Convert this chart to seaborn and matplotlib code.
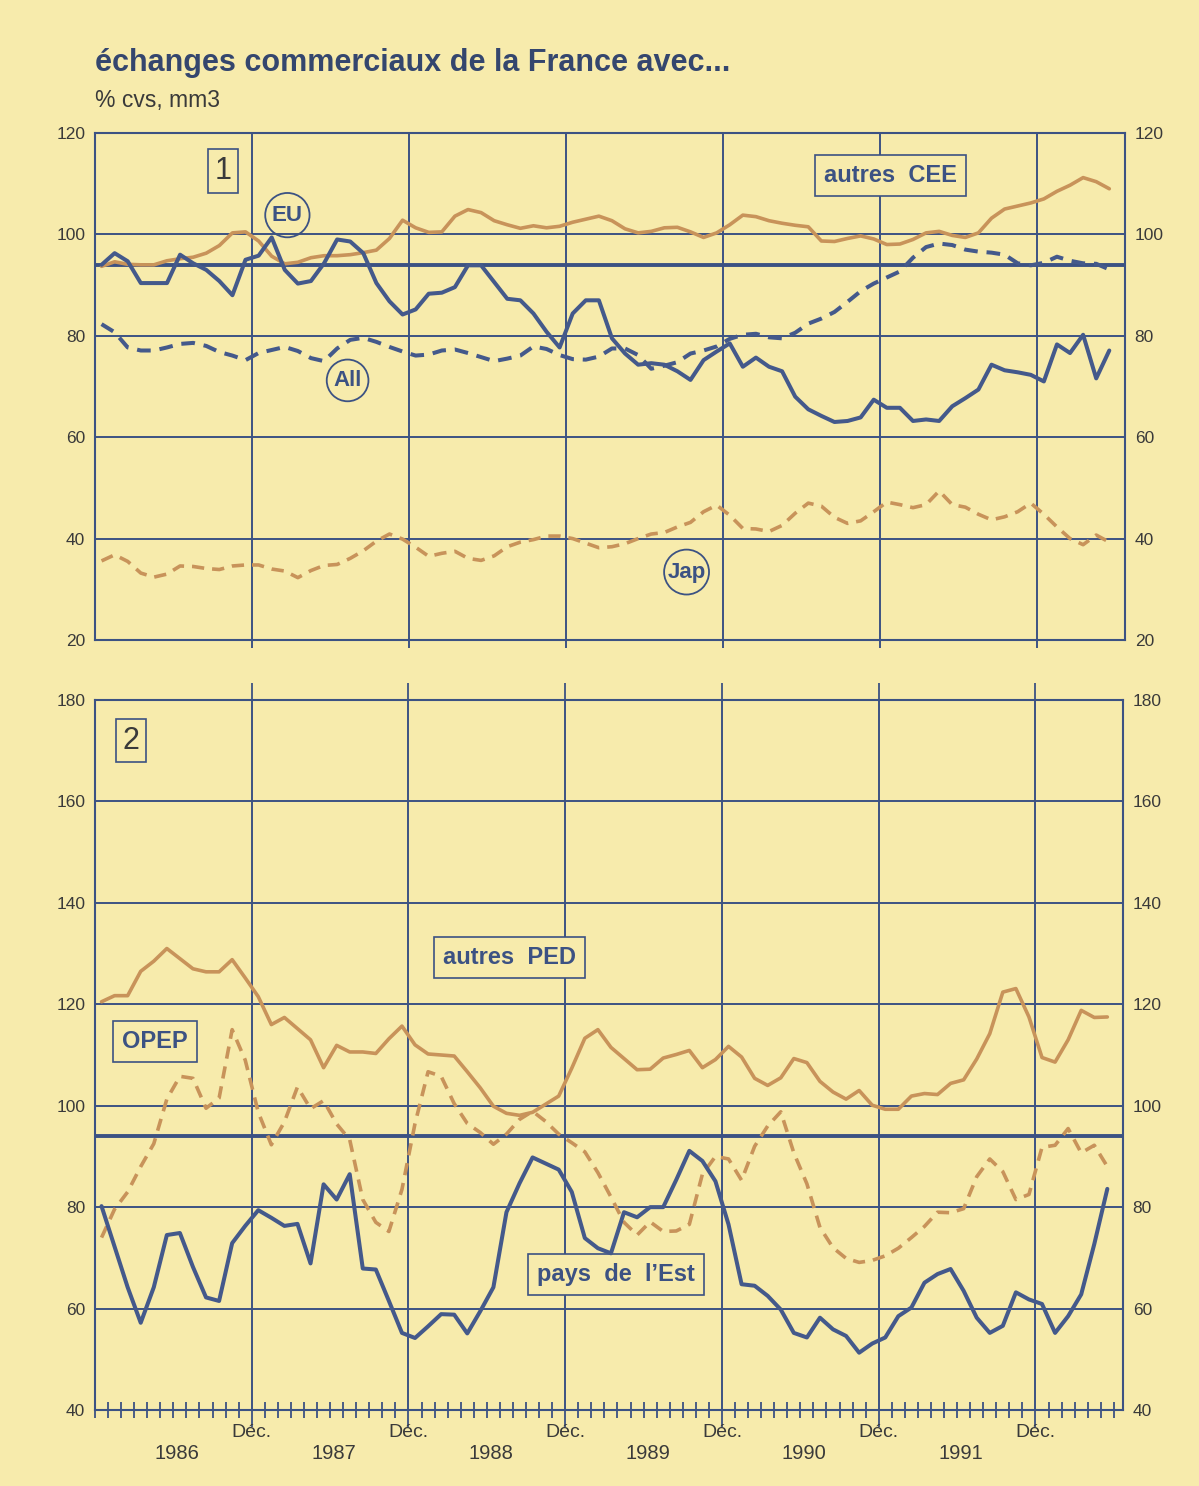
import numpy as np
import pandas as pd
import matplotlib
matplotlib.use("Agg")
import matplotlib.pyplot as plt
import seaborn as sns

# ---------------- data (monthly, Jan 1986 - Jun 1992) ----------------
dates = pd.date_range("1986-01-01", periods=78, freq="MS")

eu = [94.0, 96.3, 94.7, 90.4, 90.4, 90.4, 96.0, 94.3, 93.0, 90.8,
      88.0, 95.0, 95.8, 99.4, 93.0, 90.3, 90.8, 94.3, 99.0, 98.6,
      96.3, 90.4, 86.8, 84.2, 85.2, 88.3, 88.5, 89.6, 93.9, 93.9,
      90.6, 87.3, 87.0, 84.4, 80.8, 77.7, 84.4, 87.0, 87.0, 79.5,
      76.5, 74.3, 74.6, 74.3, 73.0, 71.3, 75.2, 76.9, 78.5, 73.9,
      75.7, 73.9, 73.0, 68.0, 65.5, 64.2, 63.0, 63.2, 63.9, 67.4,
      65.8, 65.8, 63.2, 63.5, 63.2, 66.1, 67.7, 69.4, 74.3, 73.2,
      72.8, 72.3, 71.0, 78.3, 76.6, 80.2, 71.6, 77.1]

autres_cee = [93.7, 94.6, 94.1, 94.0, 94.0, 94.8, 95.2, 95.5, 96.3, 97.8,
              100.3, 100.5, 98.7, 95.7, 94.2, 94.5, 95.4, 95.8, 95.8, 96.0,
              96.4, 96.9, 99.2, 102.8, 101.3, 100.4, 100.5, 103.6, 104.9, 104.3,
              102.7, 101.9, 101.2, 101.7, 101.3, 101.6, 102.4, 103.0, 103.6, 102.7,
              101.1, 100.3, 100.6, 101.3, 101.4, 100.5, 99.4, 100.3, 101.9, 103.8,
              103.5, 102.7, 102.2, 101.8, 101.5, 98.7, 98.6, 99.2, 99.7, 99.1,
              98.0, 98.1, 99.0, 100.3, 100.6, 99.8, 99.4, 100.3, 103.2, 105.0,
              105.6, 106.2, 107.0, 108.5, 109.7, 111.2, 110.4, 109.0]

allemagne = [82.3, 80.7, 77.7, 77.1, 77.1, 77.7, 78.4, 78.6, 78.0, 76.8,
             76.1, 75.2, 76.6, 77.2, 77.8, 77.0, 75.6, 75.0, 77.5, 79.2,
             79.6, 78.8, 77.8, 76.9, 76.1, 76.3, 77.1, 77.3, 76.6, 75.8,
             75.0, 75.5, 76.1, 77.9, 77.4, 76.2, 75.4, 75.3, 75.9, 77.5,
             77.5, 76.2, 73.5, 74.1, 74.8, 76.5, 77.1, 77.9, 79.4, 80.2,
             80.4, 79.7, 79.5, 80.6, 82.4, 83.4, 84.7, 86.7, 88.8, 90.3,
             91.5, 92.7, 95.4, 97.5, 98.2, 97.9, 97.0, 96.6, 96.4, 96.0,
             94.3, 93.9, 94.4, 95.6, 94.8, 94.3, 94.2, 93.1]

japon = [35.6, 36.8, 35.5, 33.2, 32.4, 33.0, 34.6, 34.5, 34.1, 33.9,
         34.6, 34.8, 34.8, 34.0, 33.6, 32.3, 33.7, 34.7, 34.9, 36.1,
         37.6, 39.5, 40.9, 39.9, 38.3, 36.5, 37.1, 37.5, 36.1, 35.7,
         36.6, 38.4, 39.3, 39.8, 40.5, 40.5, 40.0, 39.1, 38.2, 38.4,
         39.0, 40.0, 40.9, 41.2, 42.3, 43.2, 45.3, 46.6, 44.6, 42.0,
         41.9, 41.4, 42.6, 45.0, 47.0, 46.4, 44.2, 43.0, 43.5, 45.3,
         47.2, 46.7, 46.1, 46.7, 49.4, 46.7, 46.2, 44.8, 43.7, 44.3,
         45.3, 47.0, 44.8, 42.3, 40.0, 38.8, 40.7, 39.3]

autres_ped = [120.5, 121.7, 121.7, 126.5, 128.5, 131.0, 129.0, 127.0, 126.4, 126.4,
              128.8, 125.2, 121.5, 116.0, 117.4, 115.2, 113.0, 107.5, 111.9, 110.6,
              110.6, 110.3, 113.2, 115.7, 112.0, 110.2, 110.0, 109.8, 106.7, 103.5,
              99.9, 98.5, 98.1, 98.7, 100.3, 101.9, 107.4, 113.3, 115.0, 111.5,
              109.3, 107.1, 107.2, 109.4, 110.1, 110.9, 107.5, 109.1, 111.7, 109.6,
              105.4, 104.0, 105.5, 109.3, 108.5, 104.8, 102.7, 101.3, 103.0, 100.1,
              99.3, 99.3, 101.9, 102.4, 102.2, 104.4, 105.1, 109.2, 114.2, 122.4,
              123.1, 117.5, 109.5, 108.6, 113.0, 118.8, 117.4, 117.5]

opep = [74.0, 79.6, 83.0, 88.0, 92.5, 101.3, 105.8, 105.4, 99.5, 101.5,
        115.0, 109.0, 98.7, 92.3, 96.8, 103.7, 99.4, 101.0, 96.4, 93.3,
        81.5, 77.0, 75.2, 83.5, 96.5, 106.7, 105.8, 100.4, 96.5, 94.7,
        92.4, 94.4, 97.3, 98.9, 96.9, 94.4, 92.7, 90.9, 86.8, 82.0,
        77.0, 74.5, 77.1, 75.2, 75.3, 76.6, 86.5, 90.0, 89.5, 85.3,
        92.0, 96.0, 98.8, 90.7, 84.6, 76.0, 72.0, 69.9, 69.1, 69.5,
        70.4, 71.9, 74.0, 76.2, 79.0, 78.9, 79.7, 86.0, 89.5, 87.0,
        81.5, 82.5, 91.8, 92.2, 95.5, 90.7, 92.2, 88.0]

pays_est = [80.2, 72.2, 64.2, 57.2, 64.2, 74.5, 74.9, 68.2, 62.2, 61.5,
            72.9, 76.3, 79.4, 77.9, 76.3, 76.7, 68.9, 84.5, 81.5, 86.5,
            67.9, 67.7, 61.5, 55.2, 54.2, 56.5, 58.9, 58.8, 55.1, 59.5,
            64.2, 79.0, 84.7, 89.8, 88.6, 87.4, 83.0, 73.9, 71.9, 70.9,
            79.0, 78.0, 80.0, 80.0, 85.4, 91.1, 89.1, 85.1, 76.6, 64.8,
            64.5, 62.5, 59.8, 55.2, 54.3, 58.2, 55.9, 54.6, 51.3, 53.1,
            54.3, 58.5, 60.2, 65.1, 66.8, 67.8, 63.5, 58.2, 55.2, 56.6,
            63.2, 61.8, 60.9, 55.2, 58.5, 62.8, 72.7, 83.6]

year_labels = ["1986", "1987", "1988", "1989", "1990", "1991"]
dec_label = "Déc."
top_yticks = [20, 40, 60, 80, 100, 120]
bottom_yticks = [40, 60, 80, 100, 120, 140, 160, 180]
reference_level = 94

# --------------- style ---------------
sns.set_theme(style="white")
plt.rcParams["font.family"] = ["Liberation Sans", "DejaVu Sans"]

BG = "#F7EBAC"
NAVY = "#3C5283"
BLUE = "#44598B"
ORANGE = "#C8935A"
TXT = "#3A3A3A"

# month position: Jan 1986 -> 0.5 ; Déc. lines at 12, 24, ...
xpos = (dates.year - 1986) * 12 + dates.month - 0.5
xmax = 78.7

W, H = 1199, 1486
fig = plt.figure(figsize=(W / 100, H / 100), dpi=100, facecolor=BG)
ax1 = fig.add_axes([95 / W, 1 - 640 / H, (1125 - 95) / W, (640 - 133) / H])
ax2 = fig.add_axes([95 / W, 1 - 1410 / H, (1123 - 95) / W, (1410 - 700) / H])

dec_positions = [12 * (i + 1) for i in range(len(year_labels))]

for ax, yt in ((ax1, top_yticks), (ax2, bottom_yticks)):
    ax.set_facecolor(BG)
    ax.set_xlim(0, xmax)
    ax.set_ylim(yt[0], yt[-1])
    ax.set_yticks(yt)
    ax.set_yticklabels([str(v) for v in yt])
    ax.set_xticks(dec_positions)
    ax.set_axisbelow(True)
    ax.grid(True, which="major", color=NAVY, lw=1.4)
    for s in ax.spines.values():
        s.set_color(NAVY)
        s.set_linewidth(1.5)
    ax.tick_params(axis="y", which="both", length=0, labelleft=True,
                   labelright=True, labelsize=12.5, labelcolor=TXT, pad=7)
    ax.axhline(reference_level, color=NAVY, lw=2.8, zorder=1.8)

# top panel ticks (grid lines poke below)
ax1.tick_params(axis="x", which="major", bottom=True, direction="out",
                length=6, width=1.4, color=NAVY, labelbottom=False)
# bottom panel ticks
ax2.set_xticks(np.arange(0, 79), minor=True)
ax2.tick_params(axis="x", which="both", bottom=True, top=False,
                direction="inout", length=12, width=1.3, color=NAVY,
                labelbottom=False)
ax2.tick_params(axis="x", which="major", top=True, direction="out")

# ---------------- lines ----------------
dash = (0, (3.4, 2.2))
sns.lineplot(x=xpos, y=autres_cee, ax=ax1, color=ORANGE, lw=2.6,
             solid_joinstyle="round", zorder=3)
sns.lineplot(x=xpos, y=japon, ax=ax1, color=ORANGE, lw=2.6,
             linestyle=dash, zorder=3)
sns.lineplot(x=xpos, y=allemagne, ax=ax1, color=BLUE, lw=2.9,
             linestyle=dash, zorder=4)
sns.lineplot(x=xpos, y=eu, ax=ax1, color=BLUE, lw=2.9,
             solid_joinstyle="round", zorder=5)

sns.lineplot(x=xpos, y=opep, ax=ax2, color=ORANGE, lw=2.6,
             linestyle=dash, zorder=3)
sns.lineplot(x=xpos, y=autres_ped, ax=ax2, color=ORANGE, lw=2.6,
             solid_joinstyle="round", zorder=4)
sns.lineplot(x=xpos, y=pays_est, ax=ax2, color=BLUE, lw=2.9,
             solid_joinstyle="round", zorder=5)

for ax, yt in ((ax1, top_yticks), (ax2, bottom_yticks)):
    ax.set_xlim(0, xmax)
    ax.set_ylim(yt[0], yt[-1])
    ax.set_xlabel("")
    ax.set_ylabel("")

# ---------------- x labels ----------------
narrow = ["Liberation Sans Narrow", "Liberation Sans", "DejaVu Sans"]
for d in dec_positions:
    ax2.annotate(dec_label, xy=(d, 0), xycoords=("data", "axes fraction"),
                 xytext=(0, -16), textcoords="offset points", ha="center",
                 va="center", fontsize=14, color=TXT, family=narrow)
for i, yl in enumerate(year_labels):
    ax2.annotate(yl, xy=(12 * i + 6.3, 0), xycoords=("data", "axes fraction"),
                 xytext=(0, -31), textcoords="offset points", ha="center",
                 va="center", fontsize=14.5, color=TXT, family=narrow)

# ---------------- titles ----------------
fig.text(95 / W, 1 - 63 / H, "échanges commerciaux de la France avec...",
         fontsize=22, fontweight="bold", color="#34466E", ha="left", va="center")
fig.text(95 / W, 1 - 101 / H, "% cvs, mm3", fontsize=16.5, color=TXT,
         ha="left", va="center")

# ---------------- annotations ----------------
box = dict(boxstyle="square,pad=0.38", fc=BG, ec=NAVY, lw=1.2)
ax1.text(9.8, 112.5, "1", fontsize=22, color=TXT, ha="center", va="center",
         bbox=dict(boxstyle="square,pad=0.22", fc=BG, ec=NAVY, lw=1.2))
ax2.text(2.75, 172.0, "2", fontsize=22, color=TXT, ha="center", va="center",
         bbox=dict(boxstyle="square,pad=0.22", fc=BG, ec=NAVY, lw=1.2))

circ = dict(fc="none", ec=NAVY, lw=1.3)
ax1.text(14.7, 103.8, "EU", fontsize=16, fontweight="bold", color=NAVY,
         ha="center", va="center", bbox=dict(boxstyle="circle,pad=0.3", **circ))
ax1.text(19.3, 71.2, "All", fontsize=16, fontweight="bold", color=NAVY,
         ha="center", va="center", bbox=dict(boxstyle="circle,pad=0.3", **circ))
ax1.text(45.2, 33.4, "Jap", fontsize=16, fontweight="bold", color=NAVY,
         ha="center", va="center", bbox=dict(boxstyle="circle,pad=0.15", **circ))

ax1.text(60.8, 111.6, "autres  CEE", fontsize=17, fontweight="bold", color=NAVY,
         ha="center", va="center", bbox=box)
ax2.text(31.7, 129.3, "autres  PED", fontsize=17, fontweight="bold", color=NAVY,
         ha="center", va="center", bbox=box)
ax2.text(4.6, 112.7, "OPEP", fontsize=17, fontweight="bold", color=NAVY,
         ha="center", va="center", bbox=box)
ax2.text(39.9, 66.8, "pays  de  l’Est", fontsize=17, fontweight="bold",
         color=NAVY, ha="center", va="center", bbox=box)

fig.savefig("out.png", dpi=100, facecolor=BG)
